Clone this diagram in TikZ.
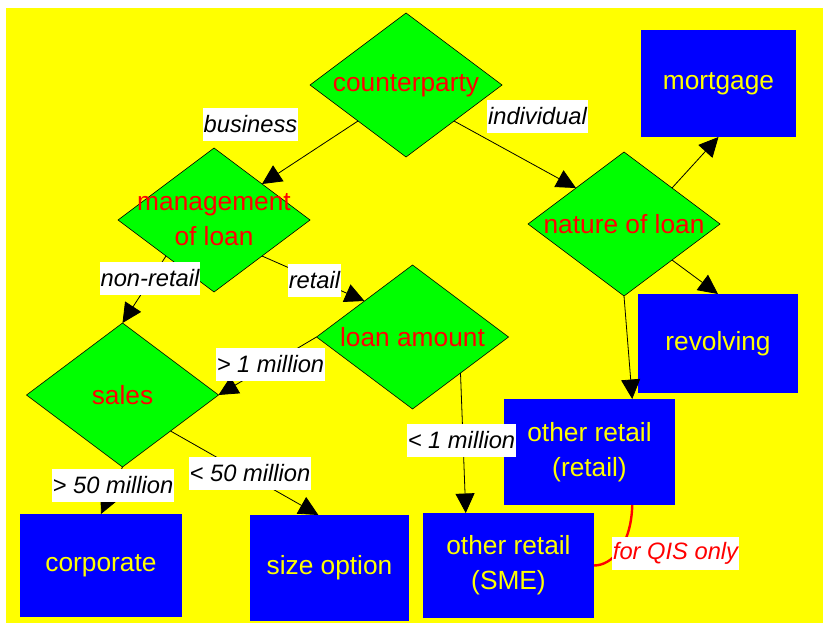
\documentclass[tikz,border=0pt]{standalone}
\usepackage{fontspec}
\setmainfont{Liberation Sans}
\usetikzlibrary{shapes.geometric,arrows.meta,calc}
\definecolor{ylw}{RGB}{255,255,0}
\definecolor{grn}{RGB}{0,255,0}
\definecolor{blu}{RGB}{0,0,255}
\definecolor{rd}{RGB}{255,0,0}
\newcommand\ndfont{\fontsize{26.3}{35}\selectfont}
\newcommand\lbfont{\fontsize{23.7}{28}\selectfont\itshape}
\tikzset{
  dec/.style={diamond, draw=black, line width=0.6pt, fill=grn, minimum width=192pt, minimum height=144pt, inner sep=0pt, outer sep=0pt},
  dtext/.style={text=rd, font=\ndfont, align=center, inner sep=0pt},
  leaf/.style={rectangle, fill=blu, text=ylw, font=\ndfont, align=center, inner sep=0pt, outer sep=0pt},
  lbl/.style={fill=white, font=\lbfont, inner xsep=1pt, inner ysep=0pt, minimum height=33pt, text=black},
  conn/.style={line width=0.8pt, -{Triangle[length=19.5pt,width=19pt]}},
}
\begin{document}
\begin{tikzpicture}[x=1pt,y=-1pt]
\useasboundingbox (0,0) rectangle (823,623);
\fill[white] (0,0) rectangle (823,623);
\fill[ylw] (6,8) rectangle (823,623);

% decision diamonds
\node[dec] (cp) at (406,85) {};
\node[dtext] (cp-t) at (406,86) {counterparty};
\node[dec] (mg) at (214,220) {};
\node[dtext] (mg-t) at (mg.center) {management\\of loan};
\node[dec] (nat) at (624,224) {};
\node[dtext] (nat-t) at (nat.center) {nature of loan};
\node[dec] (loan) at (412.5,337) {};
\node[dtext] (loan-t) at (412.5,337) {loan amount};
\node[dec] (sales) at (122.5,395) {};
\node[dtext] (sales-t) at (sales.center) {sales};

% outcome boxes
\node[leaf, minimum width=155pt, minimum height=107pt] (mort) at (718.5,83.5) {mortgage};
\node[leaf, minimum width=160pt, minimum height=99pt] (rev) at (718,343.5) {revolving};
\node[leaf, minimum width=171pt, minimum height=106pt] (ret) at (589.5,452) {other retail\\(retail)};
\node[leaf, minimum width=171pt, minimum height=105pt] (sme) at (508.5,565.5) {other retail\\(SME)};
\node[leaf, minimum width=162pt, minimum height=103pt] (corp) at (101,565.5) {corporate};
\node[leaf, minimum width=159pt, minimum height=106pt] (size) at (329.5,568) {size option};

% connectors
\draw[conn] (cp.south west) -- (mg.north east);
\draw[conn] (cp.south east) -- (nat.north west);
\draw[conn] (mg.south west) -- (sales.north);
\draw[conn] (mg.south east) -- (loan.north west);
\draw[conn] (loan.west) -- (sales.east);
\draw[conn] (loan.south east) -- ($(sme.north west)!0.25!(sme.north east)$);
\draw[conn] (sales.south) -- (corp.north);
\draw[conn] (sales.south east) -- ($(size.north west)!0.43!(size.north east)$);
\draw[conn] (nat.north east) -- (mort.south);
\draw[conn] (nat.south east) -- (rev.north);
\draw[conn] (nat.south) -- ($(ret.north west)!0.75!(ret.north east)$);
\draw[rd, line width=2.4pt] ($(ret.south west)!0.75!(ret.south east)$) .. controls +(-1,40) and +(18,0) .. (sme.east);

% edge labels
\node[lbl] (l-bus) at (250.5,124.5) {business};
\node[lbl] (l-ind) at (537.5,116.5) {individual};
\node[lbl] (l-nonret) at (150,278.5) {non-retail};
\node[lbl] (l-ret) at (314.5,280.5) {retail};
\node[lbl] (l-gt1) at (270.5,364.5) {> 1 million};
\node[lbl] (l-lt50) at (250,473) {< 50 million};
\node[lbl] (l-gt50) at (113,485.5) {> 50 million};
\node[lbl] (l-lt1) at (461.5,440.5) {< 1 million};
\node[lbl, text=rd] (l-qis) at (675.5,553) {for QIS only};
\end{tikzpicture}
\end{document}
